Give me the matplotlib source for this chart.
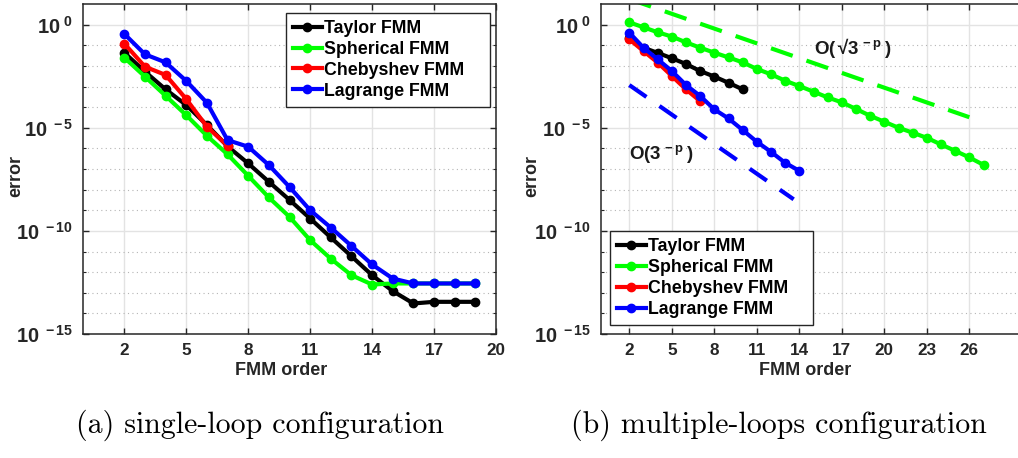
import matplotlib
matplotlib.use("Agg")
import matplotlib.pyplot as plt
import numpy as np
from matplotlib.ticker import FixedLocator, FixedFormatter, NullFormatter

plt.rcParams['font.family'] = ['Liberation Sans', 'DejaVu Sans']
plt.rcParams['font.weight'] = 'bold'
plt.rcParams['mathtext.fontset'] = 'custom'
plt.rcParams['mathtext.rm'] = 'Liberation Sans:bold'
plt.rcParams['mathtext.it'] = 'Liberation Sans:bold'
plt.rcParams['mathtext.bf'] = 'Liberation Sans:bold'

# (a) single loop: error values as log10(error)
order_a = list(range(2, 20))
taylor_a = [-1.36, -2.28, -3.14, -3.90, -4.87, -5.90, -6.73, -7.62, -8.50,
            -9.40, -10.32, -11.23, -12.15, -12.92, -13.52, -13.44, -13.44, -13.44]
spherical_a = [-1.60, -2.52, -3.45, -4.39, -5.39, -6.29, -7.33, -8.38, -9.32,
               -10.45, -11.35, -12.15, -12.60, -12.55, -12.55, -12.55, -12.55, -12.55]
order_cheb_a = list(range(2, 8))
chebyshev_a = [-0.92, -2.04, -2.44, -3.61, -4.95, -5.87]
lagrange_a = [-0.45, -1.44, -1.83, -2.73, -3.79, -5.60, -5.92, -6.81, -7.87,
              -9.00, -9.84, -10.73, -11.63, -12.31, -12.55, -12.55, -12.55, -12.55]

# (b) multiple loops
order_taylor_b = list(range(2, 11))
taylor_b = [-0.65, -1.12, -1.37, -1.63, -1.91, -2.25, -2.52, -2.82, -3.14]
order_spherical_b = list(range(2, 28))
spherical_b = [0.11, -0.13, -0.37, -0.58, -0.86, -1.12, -1.36, -1.59, -1.83,
               -2.15, -2.41, -2.72, -2.98, -3.25, -3.53, -3.77, -4.09, -4.42,
               -4.71, -5.00, -5.24, -5.49, -5.81, -6.12, -6.44, -6.80]
order_cheb_b = list(range(2, 8))
chebyshev_b = [-0.71, -1.28, -1.84, -2.49, -3.14, -3.71]
order_lagrange_b = list(range(2, 15))
lagrange_b = [-0.39, -1.12, -1.68, -2.25, -2.93, -3.46, -4.11, -4.55, -5.11,
              -5.68, -6.17, -6.70, -7.09]

# guide lines (end points)
guide_sqrt3_x = [2, 26]
guide_sqrt3 = [1.24, -4.49]
guide_3_x = [2, 13.6]
guide_3 = [-2.93, -8.47]

names = ["Taylor FMM", "Spherical FMM", "Chebyshev FMM", "Lagrange FMM"]
colors = ["black", "#00ff00", "red", "blue"]
ytick_exp = [0, -5, -10, -15]


def style_axes(ax, xmax, xticks):
    ax.set_yscale("log")
    ax.set_ylim(1e-15, 1e1)
    ax.set_xlim(0, xmax)
    ax.xaxis.set_major_locator(FixedLocator(xticks))
    ax.yaxis.set_major_locator(FixedLocator([10.0 ** e for e in ytick_exp]))
    ax.yaxis.set_major_formatter(FixedFormatter([r"$10^{\ %d}$" % e for e in ytick_exp]))
    ax.yaxis.set_minor_locator(FixedLocator([10.0 ** e for e in range(-15, 1)]))
    ax.yaxis.set_minor_formatter(NullFormatter())
    ax.grid(True, which="major", color="#e3e3e3", linewidth=1.0, linestyle="-")
    ax.grid(True, which="minor", axis="y", color="#b5b5b5", linewidth=0.8, linestyle=(0, (1, 3)))
    ax.set_axisbelow(True)
    ax.tick_params(which="both", direction="in", top=True, right=True, colors="#262626",
                   labelcolor="#262626")
    ax.tick_params(which="major", length=4, width=1.0)
    ax.tick_params(axis="x", which="major", pad=6.5, labelsize=12.3)
    ax.tick_params(axis="y", which="major", pad=7, labelsize=14.5)
    ax.tick_params(which="minor", length=2.5, width=0.8)
    for s in ax.spines.values():
        s.set_color("#262626")
        s.set_linewidth(1.1)
    ax.set_xlabel("FMM order", fontsize=13, fontweight="bold", color="#262626")
    ax.set_ylabel("error", fontsize=13, fontweight="bold", color="#262626")
    ax.xaxis.set_label_coords(0.48, -0.085)
    ax.yaxis.set_label_coords(-0.142, 0.48)


def curve(ax, x, logy, color, label):
    ax.plot(x, 10.0 ** np.array(logy), "-o", color=color, linewidth=3, markersize=6,
            label=label)


def legend(ax, loc, anchor):
    leg = ax.legend(loc=loc, bbox_to_anchor=anchor, mode="expand", borderaxespad=0,
                    fontsize=12.8, handlelength=1.6, handletextpad=0.15,
                    labelspacing=0.22, borderpad=0.4, fancybox=False, framealpha=1,
                    edgecolor="#262626")
    leg.get_frame().set_linewidth(1.0)


fig = plt.figure(figsize=(10.18, 4.58), dpi=100)
ax1 = fig.add_axes([83 / 1018, 1 - 334 / 458, 413 / 1018, 330 / 458])
ax2 = fig.add_axes([601 / 1018, 1 - 334 / 458, 425 / 1018, 330 / 458])

# (a)
curve(ax1, order_a, taylor_a, colors[0], names[0])
curve(ax1, order_a, spherical_a, colors[1], names[1])
curve(ax1, order_cheb_a, chebyshev_a, colors[2], names[2])
curve(ax1, order_a, lagrange_a, colors[3], names[3])
style_axes(ax1, 20, [2, 5, 8, 11, 14, 17, 20])
legend(ax1, "upper left", (0.4915, 0.9736, 0.494, 0.0))

# (b)
curve(ax2, order_taylor_b, taylor_b, colors[0], names[0])
curve(ax2, order_spherical_b, spherical_b, colors[1], names[1])
curve(ax2, order_cheb_b, chebyshev_b, colors[2], names[2])
curve(ax2, order_lagrange_b, lagrange_b, colors[3], names[3])
ax2.plot(guide_sqrt3_x, 10.0 ** np.array(guide_sqrt3), color=colors[1], linewidth=3,
         dashes=(5.5, 3.5))
ax2.plot(guide_3_x, 10.0 ** np.array(guide_3), color=colors[3], linewidth=3,
         dashes=(5.0, 3.8))
ax2.text(15, 10 ** -1.15, "$O(\\,\u221a3^{\\,-p}\\,)$", fontsize=13.5, va="center", ha="left",
         color="#1a1a1a")
ax2.text(2, 10 ** -6.25, r"$O(3^{\,-p}\,)$", fontsize=13.5, va="center", ha="left",
         color="#1a1a1a")
style_axes(ax2, 30, [2, 5, 8, 11, 14, 17, 20, 23, 26])
legend(ax2, "lower left", (0.0212, 0.0273, 0.4776, 0.0))

fig.text(260 / 1018, 1 - 425 / 458, "(a) single-loop configuration", family="cmr10",
         fontweight="normal", fontsize=21.5, ha="center", va="center")
fig.text(779 / 1018, 1 - 425 / 458, "(b) multiple-loops configuration", family="cmr10",
         fontweight="normal", fontsize=21.5, ha="center", va="center")

fig.savefig("out.png", dpi=100)
